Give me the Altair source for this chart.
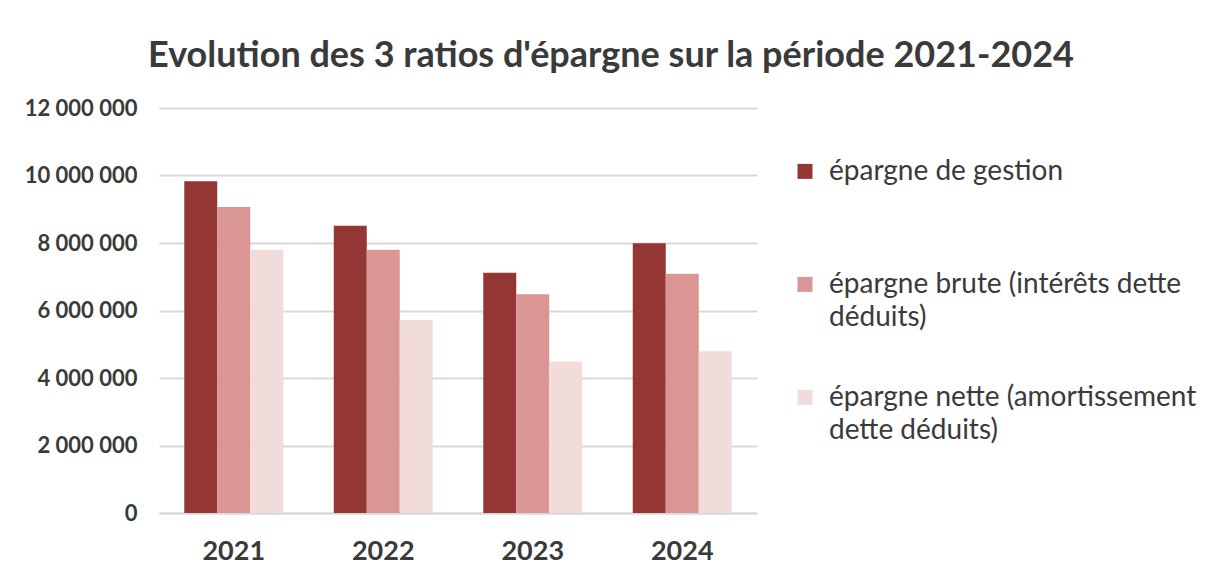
import altair as alt
import pandas as pd

years = ["2021", "2022", "2023", "2024"]
series = [
    "épargne de gestion",
    "épargne brute (intérêts dette déduits)",
    "épargne nette (amortissement dette déduits)",
]
gestion = [9830000, 8510000, 7120000, 7990000]
brute = [9070000, 7800000, 6480000, 7090000]
nette = [7800000, 5720000, 4490000, 4790000]
colors = ["#943634", "#D99694", "#F2DCDB"]
legend_lines = [
    ["épargne de gestion", ""],
    ["épargne brute (intérêts dette", "déduits)"],
    ["épargne nette (amortissement", "dette déduits)"],
]
title_text = "Evolution des 3 ratios d'épargne sur la période 2021-2024"

rows = []
for s, vals in zip(series, [gestion, brute, nette]):
    for y, v in zip(years, vals):
        rows.append({"annee": y, "serie": s, "valeur": v})
df = pd.DataFrame(rows)

def arr(lines):
    return "[" + ", ".join("'" + l + "'" for l in lines) + "]"

label_expr = (
    f"datum.label == '{series[0]}' ? {arr(legend_lines[0])} : "
    f"datum.label == '{series[1]}' ? {arr(legend_lines[1])} : {arr(legend_lines[2])}"
)

chart = alt.Chart(df).mark_bar().encode(
    x=alt.X(
        "annee:N",
        sort=years,
        title=None,
        scale=alt.Scale(paddingInner=0.338, paddingOuter=0.169),
        axis=alt.Axis(
            labelAngle=0,
            labelFont="Lato",
            labelFontWeight="bold",
            labelFontSize=27,
            labelColor="#3A3A3A",
            labelPadding=25,
            ticks=False,
            domainColor="#D9D9D9",
            domainWidth=2,
            grid=False,
        ),
    ),
    xOffset=alt.XOffset("serie:N", sort=series, scale=alt.Scale(paddingInner=0, paddingOuter=0)),
    y=alt.Y(
        "valeur:Q",
        title=None,
        scale=alt.Scale(domain=[0, 12000000], nice=False),
        axis=alt.Axis(
            values=[0, 2000000, 4000000, 6000000, 8000000, 10000000, 12000000],
            labelExpr="replace(format(datum.value, ',d'), regexp(',', 'g'), ' ')",
            labelFont="Lato",
            labelFontWeight="bold",
            labelFontSize=22,
            labelColor="#3A3A3A",
            labelPadding=22,
            ticks=False,
            domain=False,
            gridColor="#D9D9D9",
            gridWidth=2,
        ),
    ),
    color=alt.Color(
        "serie:N",
        sort=series,
        scale=alt.Scale(domain=series, range=colors),
        legend=alt.Legend(
            title=None,
            orient="none",
            legendX=632,
            legendY=58,
            labelExpr=label_expr,
            labelFont="Lato",
            labelFontSize=28,
            labelColor="#3A3A3A",
            labelLimit=500,
            labelBaseline="alphabetic",
            labelOffset=10,
            symbolType="M-1,-2.15H1V-0.15H-1Z",
            symbolSize=225,
            symbolStrokeWidth=0,
            rowPadding=52,
        ),
    ),
).properties(
    width=598,
    height=405,
    title=alt.TitleParams(
        title_text,
        font="Lato",
        fontSize=36,
        fontWeight="bold",
        color="#3A3A3A",
        anchor="middle",
        dx=153,
        dy=46,
        baseline="alphabetic",
        offset=40,
    ),
    padding={"left": 151, "top": 100, "right": 441, "bottom": 57},
    autosize=alt.AutoSizeParams(type="none"),
).configure(
    style={"guide-label": {"lineHeight": 33}}
).configure_view(stroke=None).configure_legend(padding=0)

chart.save("out.html", embed_options={"renderer": "svg", "actions": False})
